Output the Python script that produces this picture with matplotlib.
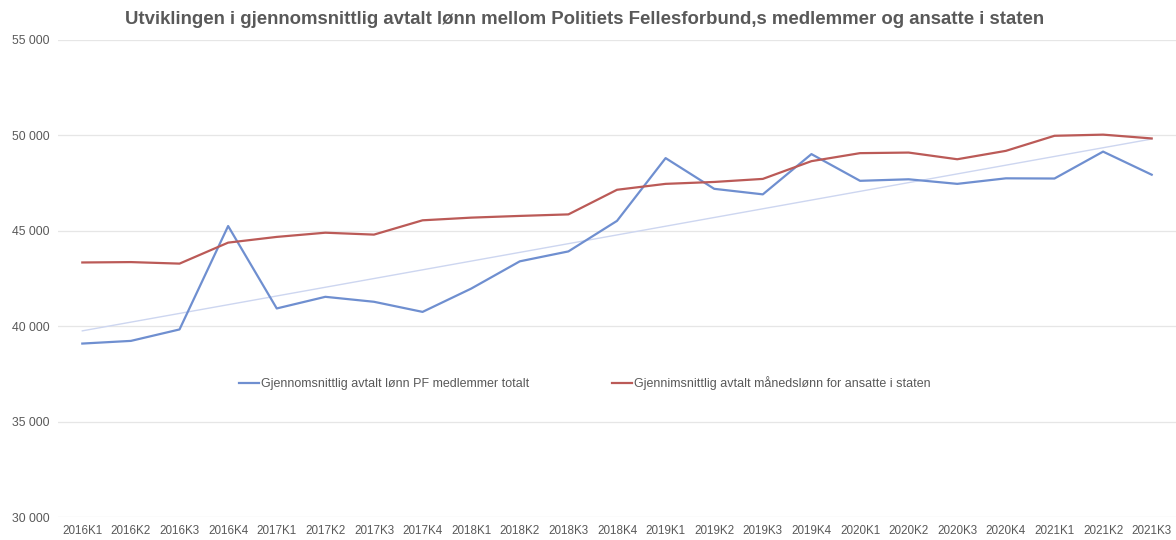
import numpy as np
import matplotlib
matplotlib.use("Agg")
import matplotlib.pyplot as plt
from matplotlib.ticker import FuncFormatter

quarters = ["2016K1", "2016K2", "2016K3", "2016K4", "2017K1", "2017K2", "2017K3", "2017K4",
            "2018K1", "2018K2", "2018K3", "2018K4", "2019K1", "2019K2", "2019K3", "2019K4",
            "2020K1", "2020K2", "2020K3", "2020K4", "2021K1", "2021K2", "2021K3"]

pf_members = [39090, 39230, 39830, 45250, 40930, 41540, 41280, 40750,
              41970, 43400, 43920, 45520, 48810, 47200, 46910, 49020,
              47620, 47700, 47460, 47750, 47740, 49150, 47940]

state_employees = [43340, 43360, 43280, 44380, 44680, 44900, 44800, 45550,
                   45690, 45780, 45860, 47150, 47460, 47560, 47720, 48650,
                   49070, 49100, 48750, 49190, 49980, 50040, 49840]

label_pf = "Gjennomsnittlig avtalt lønn PF medlemmer totalt"
label_state = "Gjennimsnittlig avtalt månedslønn for ansatte i staten"
title = "Utviklingen i gjennomsnittlig avtalt lønn mellom Politiets Fellesforbund,s medlemmer og ansatte i staten"

plt.rcParams['font.family'] = ['Liberation Sans', 'DejaVu Sans']

fig = plt.figure(figsize=(11.76, 5.4), dpi=100)
ax = fig.add_axes([58 / 1176, 1 - 517 / 540, 1 - 58 / 1176, 477 / 540])

x = np.arange(len(quarters))
ax.plot(x, pf_members, color="#6f8fd0", lw=1.6, label=label_pf)
ax.plot(x, state_employees, color="#bb5a57", lw=1.6, label=label_state)

# linear trendline of the PF series (as in the original spreadsheet)
k, m = np.polyfit(x, pf_members, 1)
ax.plot(x, k * x + m, color="#cdd6f0", lw=1.0, zorder=1)

ax.set_xlim(-0.5, len(quarters) - 0.5)
ax.set_ylim(30000, 55000)
ax.set_yticks(range(30000, 55001, 5000))
ax.yaxis.set_major_formatter(FuncFormatter(lambda v, p: f"{int(v):,}".replace(",", " ")))
ax.set_xticks(x)
ax.set_xticklabels(quarters)
ax.tick_params(axis="both", length=0, colors="#595959")
ax.tick_params(axis="y", pad=6, labelsize=8.8)
ax.tick_params(axis="x", pad=6, labelsize=8.4)
ax.grid(axis="y", color="#e6e6e6", lw=0.9)
ax.set_axisbelow(True)
for s in ax.spines.values():
    s.set_visible(False)

ax.legend(loc="center", bbox_to_anchor=(0.471, 0.281), ncol=2, frameon=False,
          fontsize=9, labelcolor="#595959", handlelength=1.6, handletextpad=0.15,
          columnspacing=6.6)

fig.text(0.497, 0.963, title, ha="center", va="center", fontsize=13.4,
         fontweight="bold", color="#595959")

fig.savefig("out.png", dpi=100)
